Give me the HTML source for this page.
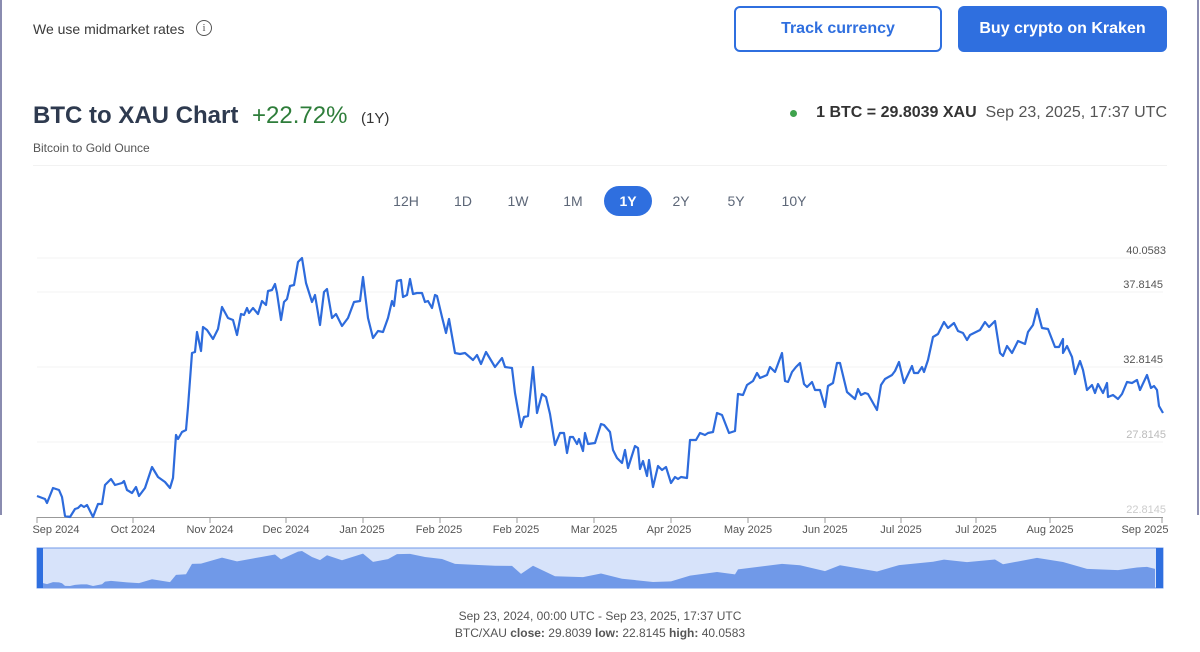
<!DOCTYPE html>
<html><head><meta charset="utf-8"><style>
body{margin:0;width:1200px;height:652px;background:#fff;font-family:"Liberation Sans",sans-serif;position:relative;overflow:hidden}
.a{position:absolute;white-space:nowrap}
.btn{position:absolute;top:6px;height:46px;border-radius:6px;box-sizing:border-box;font-weight:bold;font-size:16px;display:flex;align-items:center;justify-content:center}
.tab{position:absolute;top:193px;font-size:14px;color:#5d6778;transform:translateX(-50%)}
</style></head><body>
<div class="a" style="left:0;top:0;width:2px;height:515px;background:#8a8cb0"></div>
<div class="a" style="left:1197px;top:0;width:2px;height:515px;background:#8a8cb0"></div>
<div class="a" style="left:33px;top:21px;font-size:14px;color:#3a3a3a">We use midmarket rates</div>
<div class="a" style="left:196px;top:20px;width:14px;height:14px;border:1.3px solid #555;border-radius:50%;font-size:11px;text-align:center;line-height:14px;color:#555;font-family:'Liberation Serif',serif">i</div>
<div class="btn" style="left:734px;width:208px;border:2px solid #2f6fdf;color:#2f6fdf">Track currency</div>
<div class="btn" style="left:958px;width:209px;background:#2f6fdf;color:#fff">Buy crypto on Kraken</div>
<div class="a" style="left:33px;top:102px;font-size:24px;font-weight:bold;color:#2e3a4f">BTC to XAU Chart</div>
<div class="a" style="left:252px;top:102px;font-size:24px;color:#2e7d3a">+22.72%</div>
<div class="a" style="left:361px;top:110px;font-size:15px;color:#333">(1Y)</div>
<div class="a" style="left:33px;top:141px;font-size:12px;color:#555">Bitcoin to Gold Ounce</div>
<div class="a" style="left:790px;top:110px;width:7px;height:7px;border-radius:50%;background:#3fa34d"></div>
<div class="a" style="right:33px;top:104px;font-size:16px;color:#555"><b style="color:#333">1 BTC = 29.8039 XAU</b>&nbsp; Sep 23, 2025, 17:37 UTC</div>
<div class="a" style="left:33px;top:165px;width:1134px;height:1px;background:#f2f2f2"></div>
<div class="tab" style="left:406px">12H</div><div class="tab" style="left:463px">1D</div><div class="tab" style="left:518px">1W</div><div class="tab" style="left:573px">1M</div>
<div class="a" style="left:604px;top:186px;width:48px;height:30px;border-radius:15px;background:#2f6fdf;color:#fff;font-size:14px;font-weight:bold;text-align:center;line-height:30px">1Y</div>
<div class="tab" style="left:681px">2Y</div><div class="tab" style="left:736px">5Y</div><div class="tab" style="left:794px">10Y</div>
<svg class="a" style="left:0;top:0" width="1200" height="652">
<g stroke="#f3f3f3" stroke-width="1"><line x1="37" x2="1163" y1="258" y2="258"/><line x1="37" x2="1163" y1="292" y2="292"/><line x1="37" x2="1163" y1="367" y2="367"/><line x1="37" x2="1163" y1="442" y2="442"/></g>
<g font-size="11" fill="#555" text-anchor="end" font-family="Liberation Sans"><text x="1166" y="254">40.0583</text><text x="1163" y="288">37.8145</text><text x="1163" y="363">32.8145</text><text x="1166" y="438" fill="#bbb">27.8145</text><text x="1166" y="513" fill="#ccc">22.8145</text></g>
<line x1="37" x2="1163" y1="517.5" y2="517.5" stroke="#999"/>
<g stroke="#999"><line x1="37" x2="37" y1="517" y2="523"/><line x1="133" x2="133" y1="517" y2="523"/><line x1="210" x2="210" y1="517" y2="523"/><line x1="286" x2="286" y1="517" y2="523"/><line x1="363" x2="363" y1="517" y2="523"/><line x1="440" x2="440" y1="517" y2="523"/><line x1="517" x2="517" y1="517" y2="523"/><line x1="594" x2="594" y1="517" y2="523"/><line x1="671" x2="671" y1="517" y2="523"/><line x1="748" x2="748" y1="517" y2="523"/><line x1="825" x2="825" y1="517" y2="523"/><line x1="901" x2="901" y1="517" y2="523"/><line x1="976" x2="976" y1="517" y2="523"/><line x1="1050" x2="1050" y1="517" y2="523"/><line x1="1162" x2="1162" y1="517" y2="523"/></g>
<g font-size="11" fill="#555" text-anchor="middle" font-family="Liberation Sans"><text x="56" y="533">Sep 2024</text><text x="133" y="533">Oct 2024</text><text x="210" y="533">Nov 2024</text><text x="286" y="533">Dec 2024</text><text x="362" y="533">Jan 2025</text><text x="439" y="533">Feb 2025</text><text x="516" y="533">Feb 2025</text><text x="594" y="533">Mar 2025</text><text x="669" y="533">Apr 2025</text><text x="748" y="533">May 2025</text><text x="825" y="533">Jun 2025</text><text x="901" y="533">Jul 2025</text><text x="976" y="533">Jul 2025</text><text x="1050" y="533">Aug 2025</text><text x="1145" y="533">Sep 2025</text></g>
<polyline fill="none" stroke="#2d6bdc" stroke-width="2.2" stroke-linejoin="round" points="37,496 45,499 47,503 53,488 59,490 62,497 65,516 70,517 75,509 78,508 81,505 84,507 87,505 93,517 98,504 102,504 105,485 111,479 115,485 122,483 124,481 127,490 132,493 136,487 139,496 145,488 152,467 158,477 165,482 170,488 173,478 176,435 178,439 182,432 186,430 188,407 192,353 195,352 197,332 201,351 203,327 207,330 213,339 218,329 222,307 228,318 233,320 237,335 241,314 244,315 247,308 249,313 253,308 258,314 262,301 266,305 268,291 272,290 275,284 277,293 281,320 284,302 287,299 290,286 294,285 298,262 302,258 306,283 312,302 315,295 320,325 324,292 327,289 332,318 336,314 342,326 348,318 354,302 360,301 363,277 368,318 373,338 378,331 383,332 388,318 392,301 394,306 397,281 401,280 403,297 407,295 410,279 413,294 417,293 422,293 425,302 428,301 432,308 435,295 437,296 442,317 446,333 449,319 455,353 460,354 465,353 473,360 477,355 481,364 486,352 495,367 502,358 505,367 512,368 515,393 521,427 524,417 528,416 533,367 537,413 542,394 546,397 550,414 555,445 560,433 564,433 567,453 570,437 573,437 577,444 579,439 583,451 585,433 588,444 595,443 601,424 604,425 610,432 613,450 617,458 622,463 625,450 628,468 635,446 638,448 640,469 643,461 647,476 649,460 653,487 658,466 662,470 666,467 671,483 675,477 678,479 681,477 687,478 690,440 696,440 700,433 705,435 708,433 713,432 717,413 722,415 729,433 735,431 738,394 743,395 747,385 753,381 757,373 760,378 767,375 770,367 775,372 782,353 785,381 788,382 792,372 796,367 800,363 804,384 807,387 812,382 815,390 820,390 825,407 828,386 833,383 837,363 840,363 847,392 855,399 858,389 861,395 865,393 868,394 877,410 881,385 885,379 892,375 895,371 899,362 904,383 912,366 914,373 918,373 922,367 924,372 928,360 933,337 938,334 944,322 948,328 954,323 958,331 963,333 967,340 970,335 980,330 985,322 989,327 995,321 1000,353 1003,356 1007,346 1012,353 1018,341 1025,344 1028,332 1033,325 1037,309 1042,328 1048,329 1055,347 1059,347 1063,339 1063,353 1067,346 1072,357 1075,374 1080,361 1083,370 1087,390 1092,385 1095,393 1098,384 1103,393 1107,383 1108,397 1113,395 1118,399 1122,394 1127,382 1132,383 1137,380 1140,390 1147,375 1151,388 1154,386 1157,390 1159,406 1163,413"/>
<rect x="37" y="548" width="1126" height="40" fill="#d7e3fa" stroke="#7099e8"/>
<g transform="translate(0,516.2) scale(1,0.135)"><polygon fill="#7099e8" points="43,532 43,496 45,499 47,503 53,488 59,490 62,497 65,516 70,517 75,509 81,505 87,505 93,517 102,504 105,485 111,479 127,490 139,496 152,467 170,488 176,435 186,430 192,353 201,351 222,307 237,335 262,301 275,284 281,320 298,262 302,258 312,302 320,325 327,289 342,326 363,277 373,338 388,318 397,281 410,279 425,302 442,317 455,353 473,360 495,367 512,368 521,427 533,367 555,445 583,451 601,424 622,463 653,487 671,483 690,440 717,413 735,431 738,394 782,353 800,363 825,407 840,363 877,410 899,362 933,337 944,322 967,340 995,321 1003,356 1037,309 1063,339 1087,390 1118,399 1137,380 1147,375 1155,390 1155,532"/></g>
<rect x="37" y="548" width="6" height="40" fill="#2f6fdf"/><rect x="1156" y="548" width="7" height="40" fill="#2f6fdf"/>
<g font-size="12" fill="#555" text-anchor="middle" font-family="Liberation Sans"><text x="600" y="620">Sep 23, 2024, 00:00 UTC - Sep 23, 2025, 17:37 UTC</text><text x="600" y="637">BTC/XAU <tspan font-weight="bold">close:</tspan> 29.8039 <tspan font-weight="bold">low:</tspan> 22.8145 <tspan font-weight="bold">high:</tspan> 40.0583</text></g>
</svg>
</body></html>
